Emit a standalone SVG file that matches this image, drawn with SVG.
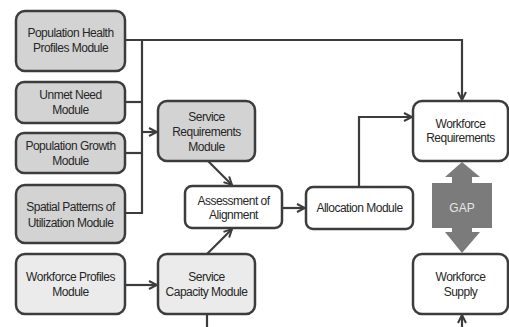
<svg xmlns="http://www.w3.org/2000/svg" width="509" height="327" viewBox="0 0 509 327">
<defs>
<marker id="ah" viewBox="0 0 10 10" refX="9" refY="5" markerWidth="10" markerHeight="10" markerUnits="userSpaceOnUse" orient="auto">
<path d="M1,1 L9,5 L1,9" fill="none" stroke="#3c3c3c" stroke-width="2"/>
</marker>
<style>
.box{stroke:#3c3c3c;stroke-width:2.5}
.dk{fill:#d3d3d3}
.lt{fill:#ebebeb}
.wh{fill:#ffffff}
.t{font-family:"Liberation Sans",Arial,sans-serif;font-size:12px;fill:#262626;text-anchor:middle;letter-spacing:-0.5px}
.c{fill:none;stroke:#3c3c3c;stroke-width:2.2}
</style>
</defs>
<rect width="509" height="327" fill="#ffffff"/>
<g id="connectors">
<path class="c" d="M125,40 H462 V100" marker-end="url(#ah)"/>
<path class="c" d="M142,40 V213 H125"/>
<path class="c" d="M125,102 H142"/>
<path class="c" d="M125,153 H142"/>
<path class="c" d="M142,132 H157" marker-end="url(#ah)"/>
<path class="c" d="M208,161 L232,185" marker-end="url(#ah)"/>
<path class="c" d="M207,254 L232,229" marker-end="url(#ah)"/>
<path class="c" d="M125,285 H157" marker-end="url(#ah)"/>
<path class="c" d="M282,208 H305" marker-end="url(#ah)"/>
<path class="c" d="M359,187 V117 H412" marker-end="url(#ah)"/>
<path class="c" d="M207,314 V328 H462 V315" marker-end="url(#ah)"/>
</g>
<g id="gap">
<path d="M462,162 L480,177 H472 V183 H492 V228 H472 V232 H480 L462,253 L445,232 H452 V228 H432 V183 H452 V177 H445 Z" fill="#7b7b7b"/>
<text x="462" y="212" class="t" style="fill:#e6e6e6;letter-spacing:0">GAP</text>
</g>
<g id="population-health">
<rect class="box dk" x="16" y="11" width="109" height="60" rx="9"/>
<text class="t" x="70.5" y="37">Population Health</text>
<text class="t" x="70.5" y="52">Profiles Module</text>
</g>
<g id="unmet-need">
<rect class="box dk" x="16" y="82" width="109" height="41" rx="8"/>
<text class="t" x="70.5" y="99">Unmet Need</text>
<text class="t" x="70.5" y="114">Module</text>
</g>
<g id="population-growth">
<rect class="box dk" x="16" y="133" width="109" height="40" rx="8"/>
<text class="t" x="70.5" y="150">Population Growth</text>
<text class="t" x="70.5" y="165">Module</text>
</g>
<g id="spatial-patterns">
<rect class="box dk" x="16" y="185" width="109" height="58" rx="9"/>
<text class="t" x="70.5" y="211">Spatial Patterns of</text>
<text class="t" x="70.5" y="227">Utilization Module</text>
</g>
<g id="workforce-profiles">
<rect class="box lt" x="16" y="254" width="109" height="60" rx="9"/>
<text class="t" x="70.5" y="281">Workforce Profiles</text>
<text class="t" x="70.5" y="296">Module</text>
</g>
<g id="service-requirements">
<rect class="box dk" x="158" y="101" width="97" height="60" rx="9"/>
<text class="t" x="206.5" y="121">Service</text>
<text class="t" x="206.5" y="136">Requirements</text>
<text class="t" x="206.5" y="151">Module</text>
</g>
<g id="assessment">
<rect class="box wh" x="185" y="186" width="97" height="42" rx="7"/>
<text class="t" x="233.5" y="205">Assessment of</text>
<text class="t" x="233.5" y="219">Alignment</text>
</g>
<g id="service-capacity">
<rect class="box lt" x="158" y="254" width="97" height="60" rx="9"/>
<text class="t" x="206.5" y="281">Service</text>
<text class="t" x="206.5" y="296">Capacity Module</text>
</g>
<g id="allocation">
<rect class="box wh" x="306" y="187" width="107" height="42" rx="7"/>
<text class="t" x="359.5" y="212">Allocation Module</text>
</g>
<g id="workforce-requirements">
<rect class="box wh" x="413" y="101" width="95" height="60" rx="9"/>
<text class="t" x="460.5" y="128">Workforce</text>
<text class="t" x="460.5" y="142">Requirements</text>
</g>
<g id="workforce-supply">
<rect class="box wh" x="413" y="254" width="95" height="60" rx="9"/>
<text class="t" x="460.5" y="281">Workforce</text>
<text class="t" x="460.5" y="296">Supply</text>
</g>
</svg>
